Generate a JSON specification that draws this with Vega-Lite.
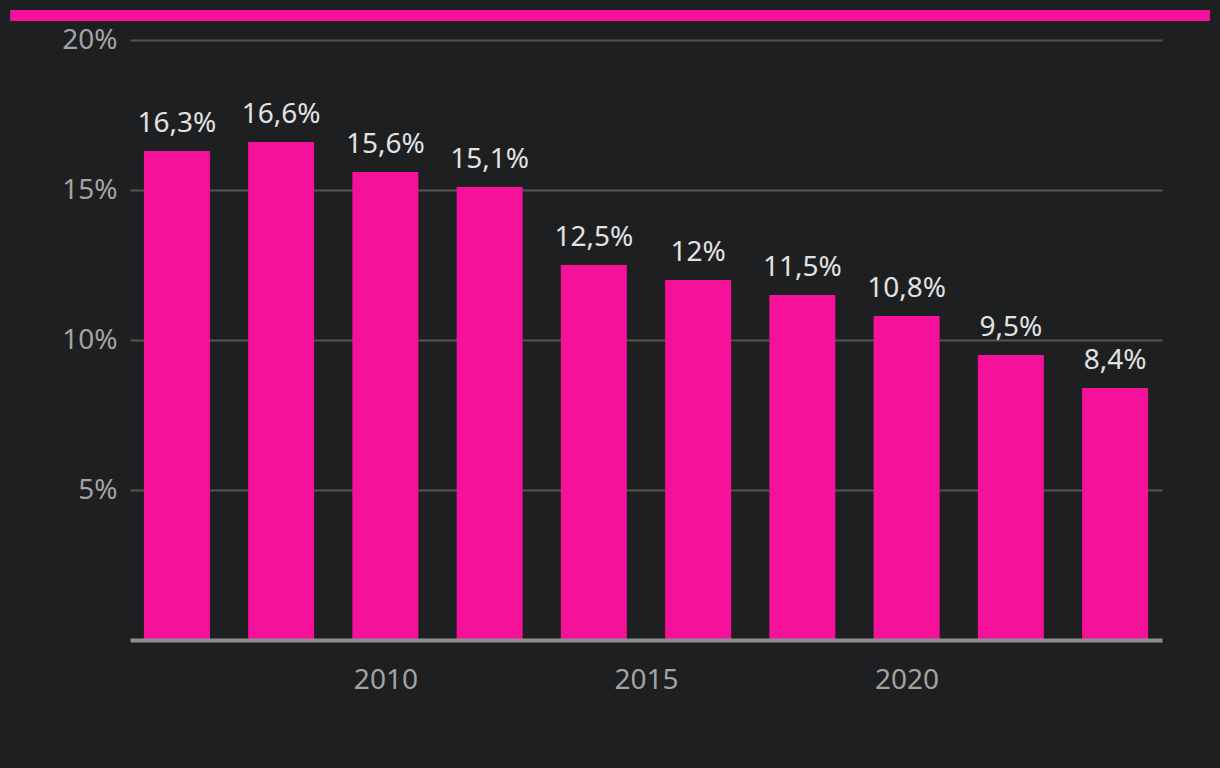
{
  "$schema": "https://vega.github.io/schema/vega-lite/v6.json",
  "autosize": {"type": "none"},
  "width": 1032,
  "height": 600,
  "padding": {"left": 130, "top": 40, "right": 58, "bottom": 128},
  "background": "#1e1f21",
  "config": {
    "view": {"stroke": null},
    "font": "Noto Sans",
    "locale": {
      "number": {"decimal": ",", "thousands": ".", "grouping": [3], "currency": ["", " €"]}
    }
  },
  "data": {
    "values": [
      {"year": 2006, "share": 0.163},
      {"year": 2008, "share": 0.166},
      {"year": 2010, "share": 0.156},
      {"year": 2012, "share": 0.151},
      {"year": 2014, "share": 0.125},
      {"year": 2016, "share": 0.12},
      {"year": 2018, "share": 0.115},
      {"year": 2020, "share": 0.108},
      {"year": 2022, "share": 0.095},
      {"year": 2024, "share": 0.084}
    ]
  },
  "layer": [
    {
      "mark": {"type": "bar", "width": 66, "color": "#f5119a"},
      "encoding": {
        "x": {
          "field": "year",
          "type": "quantitative",
          "scale": {"domain": [2005.1, 2024.9], "nice": false, "zero": false, "padding": 0},
          "axis": {
            "title": null,
            "values": [2010, 2015, 2020],
            "format": "d",
            "grid": false,
            "ticks": false,
            "domain": true,
            "domainColor": "#8e8e8e",
            "domainWidth": 4,
            "labelColor": "#a3a3a3",
            "labelFontSize": 28,
            "labelPadding": 26,
            "zindex": 1
          }
        },
        "y": {
          "field": "share",
          "type": "quantitative",
          "scale": {"domain": [0, 0.2], "nice": false},
          "axis": {
            "title": null,
            "values": [0.05, 0.1, 0.15, 0.2],
            "format": ".0%",
            "domain": false,
            "ticks": false,
            "grid": true,
            "gridColor": "#545454",
            "gridWidth": 2,
            "labelColor": "#a3a3a3",
            "labelFontSize": 28,
            "labelPadding": 13
          }
        }
      }
    },
    {
      "mark": {"type": "text", "baseline": "alphabetic", "dy": -19, "fontSize": 28, "color": "#e2e2e2"},
      "encoding": {
        "x": {"field": "year", "type": "quantitative", "scale": {"domain": [2005.1, 2024.9], "nice": false, "zero": false, "padding": 0}},
        "y": {"field": "share", "type": "quantitative", "scale": {"domain": [0, 0.2], "nice": false}},
        "text": {"field": "share", "type": "quantitative", "format": ".1~%"}
      }
    },
    {
      "data": {"values": [{"band": "top"}]},
      "mark": {"type": "rect", "color": "#f5119a", "clip": false},
      "encoding": {
        "x": {"datum": 2002.8, "type": "quantitative", "scale": {"domain": [2005.1, 2024.9], "nice": false, "zero": false, "padding": 0}},
        "x2": {"datum": 2025.82},
        "y": {"datum": 0.21, "type": "quantitative", "scale": {"domain": [0, 0.2], "nice": false}},
        "y2": {"datum": 0.2063}
      }
    }
  ]
}
